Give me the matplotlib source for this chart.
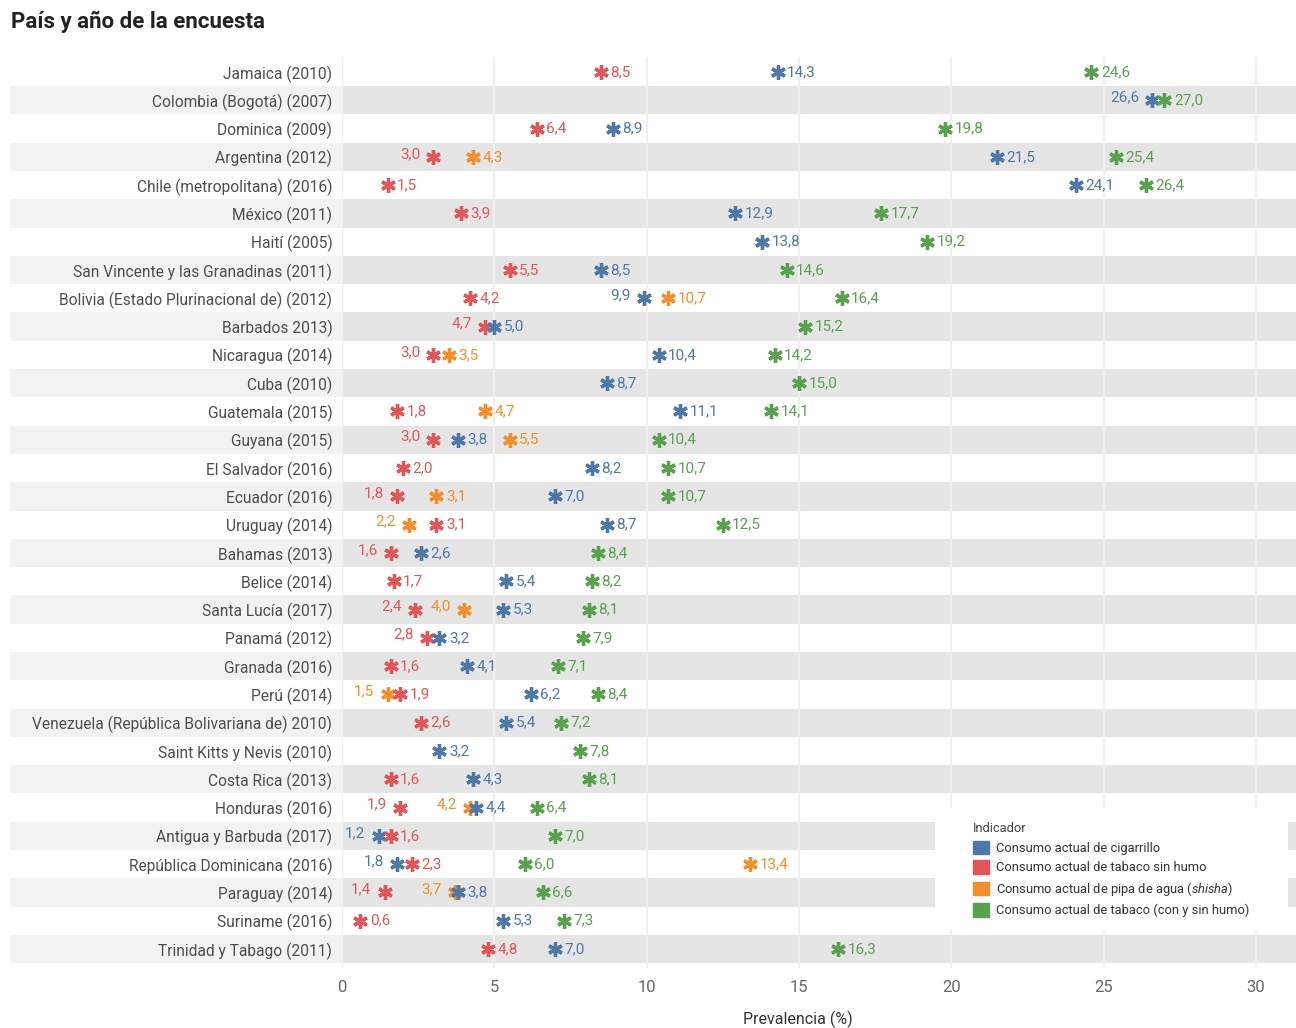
"""Dot plot of tobacco-use prevalence by country and survey year."""

import matplotlib.pyplot as plt
from matplotlib.patches import Patch, Rectangle

countries = [
    "Jamaica (2010)", "Colombia (Bogotá) (2007)", "Dominica (2009)", "Argentina (2012)",
    "Chile (metropolitana) (2016)", "México (2011)", "Haití (2005)",
    "San Vincente y las Granadinas (2011)", "Bolivia (Estado Plurinacional de) (2012)",
    "Barbados 2013)", "Nicaragua (2014)", "Cuba (2010)", "Guatemala (2015)", "Guyana (2015)",
    "El Salvador (2016)", "Ecuador (2016)", "Uruguay (2014)", "Bahamas (2013)", "Belice (2014)",
    "Santa Lucía (2017)", "Panamá (2012)", "Granada (2016)", "Perú (2014)",
    "Venezuela (República Bolivariana de) 2010)", "Saint Kitts y Nevis (2010)",
    "Costa Rica (2013)", "Honduras (2016)", "Antigua y Barbuda (2017)",
    "República Dominicana (2016)", "Paraguay (2014)", "Suriname (2016)", "Trinidad y Tabago (2011)",
]

cigarrillo = [14.3, 26.6, 8.9, 21.5, 24.1, 12.9, 13.8, 8.5, 9.9, 5.0, 10.4, 8.7, 11.1, 3.8, 8.2, 7.0,
              8.7, 2.6, 5.4, 5.3, 3.2, 4.1, 6.2, 5.4, 3.2, 4.3, 4.4, 1.2, 1.8, 3.8, 5.3, 7.0]
sin_humo = [8.5, None, 6.4, 3.0, 1.5, 3.9, None, 5.5, 4.2, 4.7, 3.0, None, 1.8, 3.0, 2.0, 1.8,
            3.1, 1.6, 1.7, 2.4, 2.8, 1.6, 1.9, 2.6, None, 1.6, 1.9, 1.6, 2.3, 1.4, 0.6, 4.8]
shisha = [None, None, None, 4.3, None, None, None, None, 10.7, None, 3.5, None, 4.7, 5.5, None, 3.1,
          2.2, None, None, 4.0, None, None, 1.5, None, None, None, 4.2, None, 13.4, 3.7, None, None]
tabaco = [24.6, 27.0, 19.8, 25.4, 26.4, 17.7, 19.2, 14.6, 16.4, 15.2, 14.2, 15.0, 14.1, 10.4, 10.7, 10.7,
          12.5, 8.4, 8.2, 8.1, 7.9, 7.1, 8.4, 7.2, 7.8, 8.1, 6.4, 7.0, 6.0, 6.6, 7.3, 16.3]

series_names = [
    "Consumo actual de cigarrillo",
    "Consumo actual de tabaco sin humo",
    r"Consumo actual de pipa de agua ($\mathit{shisha}$)",
    "Consumo actual de tabaco (con y sin humo)",
]
series_values = [cigarrillo, sin_humo, shisha, tabaco]
series_colors = ["#4e79a7", "#e15759", "#f28e2b", "#59a14f"]

# labels that sit on the left of their marker (to avoid overlaps)
left_labels = {
    (1, 0), (3, 1), (8, 0), (9, 1), (10, 1), (13, 1), (15, 1), (16, 2), (17, 1),
    (19, 1), (19, 2), (20, 1), (22, 2), (26, 1), (26, 2), (27, 0), (28, 0), (29, 1), (29, 2),
}

x_ticks = [0, 5, 10, 15, 20, 25, 30]

plt.rcParams["mathtext.fontset"] = "custom"
plt.rcParams["mathtext.it"] = "Roboto:italic"
plt.rcParams["mathtext.rm"] = "Roboto"
plt.rcParams["font.family"] = ["Roboto", "DejaVu Sans"]

W, H = 1296, 1028

fig = plt.figure(figsize=(W / 100, H / 100), dpi=100)
ax = fig.add_axes([342 / W, 1 - 968 / H, 1 - 342 / W, (968 - 57) / H])

n = len(countries)
ax.set_ylim(n - 1 + 0.67, -0.53)
ax.set_xlim(0, (W - 342) / 30.46)

# alternating row bands, lighter in the label area
for i in range(1, n, 2):
    ax.axhspan(i - 0.5, i + 0.5, color="#e5e5e5", lw=0, zorder=0)
    y0 = ax.transData.transform((0, i + 0.5))[1] / H
    y1 = ax.transData.transform((0, i - 0.5))[1] / H
    fig.patches.append(Rectangle((10 / W, y0), (342 - 10) / W, y1 - y0,
                                 transform=fig.transFigure, color="#f2f2f2", lw=0, zorder=-1))

for t in x_ticks:
    ax.axvline(t, color="#f0f0f0", lw=1.6, zorder=1)

for j, (vals, col) in enumerate(zip(series_values, series_colors)):
    for i, v in enumerate(vals):
        if v is None:
            continue
        ax.plot(v, i, marker=(6, 2, 0), ms=10.5, mew=2.4, color=col, zorder=3 + v / 100)
        txt = f"{v:.1f}".replace(".", ",")
        if (i, j) in left_labels:
            ax.annotate(txt, (v, i), xytext=(-9.5, 2.2), textcoords="offset points",
                        ha="right", va="center", color=col, fontsize=11, zorder=4)
        else:
            ax.annotate(txt, (v, i), xytext=(6.8, 0), textcoords="offset points",
                        ha="left", va="center", color=col, fontsize=11, zorder=4)

ax.set_yticks(range(n))
ax.set_yticklabels(countries, fontsize=11.2, color="#4d4d4d")
ax.set_xticks(x_ticks)
ax.set_xticklabels([str(t) for t in x_ticks], fontsize=12, color="#666666")
ax.tick_params(length=0)
ax.tick_params(axis="y", pad=7)
ax.tick_params(axis="x", pad=9)
for s in ax.spines.values():
    s.set_visible(False)

fig.text(798 / W, 1 - 1019 / H, "Prevalencia (%)", ha="center", va="center",
         fontsize=11.5, color="#333333")
fig.text(11 / W, 1 - 22 / H, "País y año de la encuesta", ha="left", va="center",
         fontsize=16, fontweight="bold", color="#222222")

# white legend box over the bands
fig.patches.append(Rectangle((935 / W, 1 - 930 / H), (1288 - 935) / W, (930 - 808) / H,
                             transform=fig.transFigure, color="white", lw=0, zorder=2))
handles = [Patch(color=c) for c in series_colors]
leg = fig.legend(handles, series_names, loc="upper left",
                 bbox_to_anchor=(968 / W, 1 - 817 / H), frameon=False,
                 title="Indicador", alignment="left", handlelength=1.25, handleheight=1.25,
                 handletextpad=0.5, labelspacing=0.42, borderaxespad=0,
                 prop={"size": 9.3}, labelcolor="#333333")
leg.set_zorder(3)
leg.get_title().set_fontsize(9.3)
leg.get_title().set_color("#444444")

fig.savefig("out.png", dpi=100)
